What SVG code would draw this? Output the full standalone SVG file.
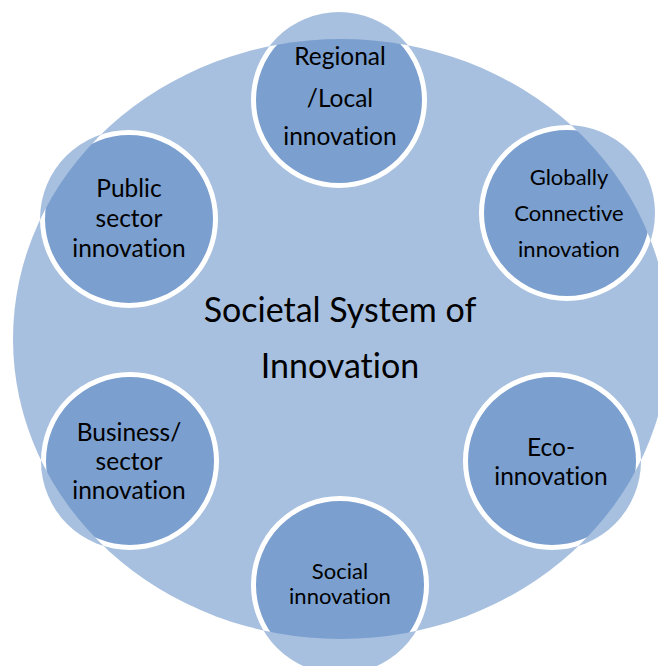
<svg xmlns="http://www.w3.org/2000/svg" width="658" height="666" viewBox="0 0 658 666">
<style>
.outer{fill:#a8c0df}
.halo{fill:#a8c0df}
.disk{fill:#7b9fce;stroke:#ffffff;stroke-width:5}
text{font-family:Lato,"Open Sans","Liberation Sans",sans-serif;fill:#000;text-anchor:middle;font-variant-ligatures:none;font-feature-settings:"liga" 0,"clig" 0}
.c{font-size:34px}
.n{font-size:24.5px}
.s{font-size:22px}
</style>
<defs>
<clipPath id="bigClip"><ellipse cx="341" cy="339" rx="328" ry="300"/></clipPath>
</defs>
<rect width="658" height="666" fill="#ffffff"/>
<g id="system">
<ellipse class="outer" cx="341" cy="339" rx="328" ry="300"/>
<text class="c" x="340" y="322">Societal System of</text>
<text class="c" x="340" y="378">Innovation</text>
</g>
<g id="node-regional">
<circle class="halo" cx="339" cy="100" r="88"/>
<circle class="disk" cx="339" cy="100" r="85.5" clip-path="url(#bigClip)"/>
<text class="n" x="340" y="65">Regional</text>
<text class="n" x="340" y="107">/Local</text>
<text class="n" x="340" y="145">innovation</text>
</g>
<g id="node-global">
<circle class="halo" cx="567" cy="213" r="88"/>
<circle class="disk" cx="567" cy="213" r="85.5" clip-path="url(#bigClip)"/>
<text class="s" x="569" y="185">Globally</text>
<text class="s" x="569" y="221">Connective</text>
<text class="s" x="569" y="257">innovation</text>
</g>
<g id="node-public">
<circle class="halo" cx="129" cy="219" r="89"/>
<circle class="disk" cx="129" cy="219" r="86.5" clip-path="url(#bigClip)"/>
<text class="n" x="129" y="197">Public</text>
<text class="n" x="129" y="227">sector</text>
<text class="n" x="129" y="257">innovation</text>
</g>
<g id="node-business">
<circle class="halo" cx="130" cy="461" r="89"/>
<circle class="disk" cx="130" cy="461" r="86.5" clip-path="url(#bigClip)"/>
<text class="n" x="129" y="441">Business/</text>
<text class="n" x="129" y="470">sector</text>
<text class="n" x="129" y="499">innovation</text>
</g>
<g id="node-eco">
<circle class="halo" cx="552" cy="461" r="89"/>
<circle class="disk" cx="552" cy="461" r="86.5" clip-path="url(#bigClip)"/>
<text class="n" x="551" y="456">Eco-</text>
<text class="n" x="551" y="485">innovation</text>
</g>
<g id="node-social">
<circle class="halo" cx="340" cy="585" r="89"/>
<circle class="disk" cx="340" cy="585" r="86.5" clip-path="url(#bigClip)"/>
<text class="s" x="340" y="579">Social</text>
<text class="s" x="340" y="604">innovation</text>
</g>
</svg>
